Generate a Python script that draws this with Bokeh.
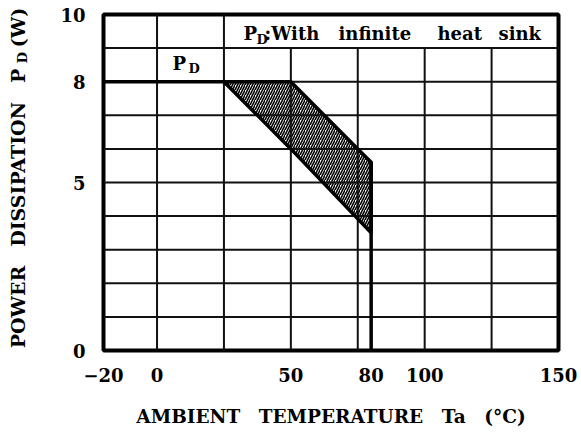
import math
from bokeh.plotting import figure
from bokeh.models import Label, FixedTicker, Range1d, LinearAxis
from bokeh.embed import file_html
from bokeh.resources import INLINE

# ---- data ----
x_ticks = [-20, 0, 50, 80, 100, 150]
y_ticks = [0, 5, 8, 10]
x_tick_labels = {-20: "\u221220"}

grid_x = [0, 25, 50, 75, 100, 125]
grid_x_top = [10, 10, 9, 9, 9, 9]
grid_y = [1, 2, 3, 4, 5, 6, 7, 8, 9]

flat_x = [-20]
flat_y = [8]
band_top_x = [25, 50, 75, 80]
band_top_y = [8, 8, 6, 5.6]
band_bottom_x = [25, 50, 80]
band_bottom_y = [8, 6, 3.5]
cutoff_x = [80]
cutoff_y = [0]

SP = "\u2003"
x_title = SP.join(["AMBIENT", "TEMPERATURE", "Ta", "(\u00b0C)"])
y_title_main = SP.join(["POWER", "DISSIPATION", "P"])
y_title_sub = "D"
y_title_unit = "(W)"
box_words = ["P", "D", ":With", "infinite", "heat", "sink"]

X_MIN, X_MAX = -20, 150
Y_MIN, Y_MAX = 0, 10

FONT = "DejaVu Serif"
W, H = 581, 436
FL, FR, FT, FB = 103, 558, 14, 350   # frame edges in canvas pixels

p = figure(width=W, height=H,
           x_range=Range1d(X_MIN, X_MAX), y_range=Range1d(Y_MIN, Y_MAX),
           output_backend="svg", toolbar_location=None,
           min_border_left=FL, min_border_right=W - FR,
           min_border_top=FT, min_border_bottom=H - FB)
p.xgrid.visible = False
p.ygrid.visible = False
p.outline_line_color = "black"
p.outline_line_width = 4
p.background_fill_color = "white"
p.border_fill_color = "white"


def dx(px):
    return X_MIN + (px - FL) / (FR - FL) * (X_MAX - X_MIN)


def dy(py):
    return Y_MIN + (FB - py) / (FB - FT) * (Y_MAX - Y_MIN)


def style_axis(ax, size):
    ax.axis_line_color = None
    ax.major_tick_line_color = None
    ax.minor_tick_line_color = None
    ax.major_tick_out = 0
    ax.major_tick_in = 0
    ax.minor_tick_out = 0
    ax.minor_tick_in = 0
    ax.major_label_text_font = FONT
    ax.major_label_text_font_style = "bold"
    ax.major_label_text_font_size = size
    ax.major_label_text_color = "black"


for ax, ticks in ((p.xaxis, x_ticks), (p.yaxis, y_ticks)):
    ax.ticker = FixedTicker(ticks=ticks)
    style_axis(ax, "18px")
p.xaxis.major_label_overrides = x_tick_labels
p.xaxis.major_label_standoff = 17
p.yaxis.major_label_standoff = 18

# x title
p.xaxis.axis_label = x_title
p.xaxis.axis_label_text_font = FONT
p.xaxis.axis_label_text_font_style = "bold"
p.xaxis.axis_label_text_font_size = "18.5px"
p.xaxis.axis_label_text_color = "black"
p.xaxis.axis_label_standoff = 21

# y title built from extra label-only axes (subscript D is smaller & lower)
sub_pos = dy(57)
axis_sub = LinearAxis(ticker=FixedTicker(ticks=[sub_pos]),
                      major_label_overrides={sub_pos: y_title_sub},
                      major_label_orientation="vertical")
style_axis(axis_sub, "13px")
axis_sub.major_label_standoff = 28
p.add_layout(axis_sub, "left")

main_pos = dy(208)
unit_pos = dy(27)
axis_title = LinearAxis(ticker=FixedTicker(ticks=[main_pos, unit_pos]),
                        major_label_overrides={main_pos: y_title_main,
                                               unit_pos: y_title_unit},
                        major_label_orientation="vertical")
style_axis(axis_title, "19px")
axis_title.major_label_standoff = -17
p.add_layout(axis_title, "left")

# hatched band (top boundary then bottom boundary reversed)
poly_x = band_top_x + band_bottom_x[::-1][:-1]
poly_y = band_top_y + band_bottom_y[::-1][:-1]
p.patch(poly_x, poly_y, fill_alpha=0, hatch_pattern="/", hatch_color="black",
        hatch_scale=5, hatch_weight=1.6, line_color=None)

# grid
p.segment(x0=[X_MIN] * len(grid_y), y0=grid_y, x1=[X_MAX] * len(grid_y), y1=grid_y,
          line_color="#111111", line_width=2)
p.segment(x0=grid_x, y0=[Y_MIN] * len(grid_x), x1=grid_x, y1=grid_x_top,
          line_color="#111111", line_width=2)

# PD curve
p.line(flat_x + band_top_x + cutoff_x, flat_y + band_top_y + cutoff_y,
       line_color="black", line_width=3.5, line_join="miter")
p.line(band_bottom_x, band_bottom_y, line_color="black", line_width=3.5)
p.line([band_bottom_x[-1], band_top_x[-1]], [band_bottom_y[-1], band_top_y[-1]],
       line_color="black", line_width=3.5)


def lab(text, px, py, size):
    p.add_layout(Label(x=dx(px), y=dy(py), text=text, text_font=FONT,
                       text_font_style="bold", text_font_size=f"{size}px",
                       text_align="left", text_baseline="alphabetic",
                       text_color="black"))


# curve label P_D
lab("P", 172, 63, 18)
lab("D", 188, 68, 13)
# box label "P_D:With infinite heat sink"
box_left = [243, 256, 264, 338, 437, 498]
box_base = [33, 39, 33, 33, 33, 33]
box_size = [18, 13, 18, 18, 18, 18]
for t, bx, by, bs in zip(box_words, box_left, box_base, box_size):
    lab(t, bx, by, bs)

open("out.html", "w").write(file_html(p, INLINE))
